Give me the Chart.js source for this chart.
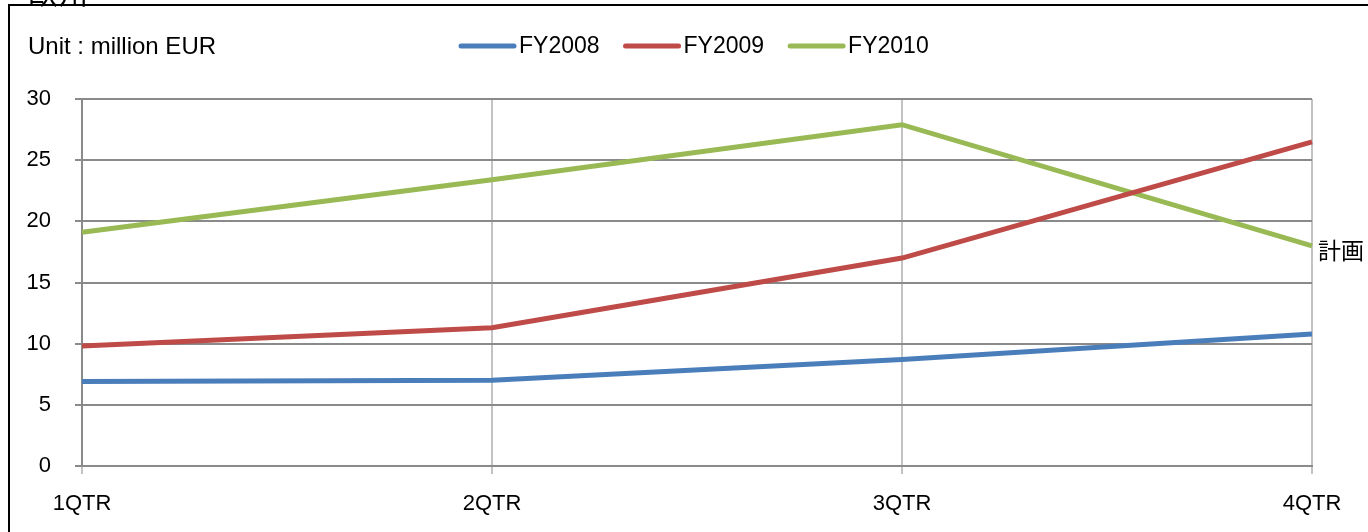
<!DOCTYPE html>
<html>
<head>
<meta charset="utf-8">
<script src="https://cdn.jsdelivr.net/npm/chart.js@4/dist/chart.umd.min.js"></script>
<style>
  html, body { margin: 0; padding: 0; background: #fff; }
  #wrap { width: 1368px; height: 532px; }
</style>
</head>
<body>
<div id="wrap"><canvas id="myChart"></canvas></div>
<script>
const quarters = ["1QTR", "2QTR", "3QTR", "4QTR"];
const fy2008 = [6.9, 7.0, 8.7, 10.8];
const fy2009 = [9.8, 11.3, 17.0, 26.5];
const fy2010 = [19.1, 23.4, 27.9, 18.0];
const seriesNames = ["FY2008", "FY2009", "FY2010"];
const lineColors = ["#4a7ebb", "#be4b48", "#98b954"];
const unitText = "Unit : million EUR";
const planText = "計画";
const cutTitle = "欧州";

const FONT = "'Liberation Sans', Arial, sans-serif";

// frame, unit label, legend and the plan note
const decor = {
  id: "decor",
  afterDraw(chart) {
    const ctx = chart.ctx;
    ctx.save();
    // outer frame (only left and top edges are visible)
    ctx.strokeStyle = "#000";
    ctx.lineWidth = 2;
    ctx.beginPath();
    ctx.moveTo(9, 532);
    ctx.lineTo(9, 5);
    ctx.lineTo(1368, 5);
    ctx.stroke();

    // title cut off at the top
    ctx.fillStyle = "#000";
    ctx.font = "30px 'Noto Sans CJK JP'";
    ctx.textBaseline = "alphabetic";
    ctx.textAlign = "left";
    ctx.fillText(cutTitle, 28, 4);

    ctx.font = "24px " + FONT;
    ctx.textBaseline = "middle";
    ctx.fillText(unitText, 28, 47);

    // legend
    ctx.font = "23px " + FONT;
    let x = 461;
    chart.data.datasets.forEach(ds => {
      ctx.strokeStyle = ds.borderColor;
      ctx.lineWidth = 5;
      ctx.lineCap = "round";
      ctx.beginPath();
      ctx.moveTo(x, 46);
      ctx.lineTo(x + 53, 46);
      ctx.stroke();
      ctx.fillStyle = "#000";
      ctx.fillText(ds.label, x + 58, 47);
      x += 58 + ctx.measureText(ds.label).width + 26;
    });

    // plan note next to last FY2010 point
    const meta = chart.getDatasetMeta(2);
    const pt = meta.data[meta.data.length - 1];
    ctx.font = "23px 'Noto Sans CJK JP'";
    ctx.fillText(planText, pt.x + 6, pt.y + 4);
    ctx.restore();
  }
};

new Chart("myChart", {
  type: "line",
  data: {
    labels: quarters,
    datasets: [fy2008, fy2009, fy2010].map((d, i) => ({
      label: seriesNames[i],
      data: d,
      borderColor: lineColors[i],
      backgroundColor: lineColors[i],
      borderWidth: 5,
      pointRadius: 0,
      tension: 0,
      fill: false
    }))
  },
  options: {
    responsive: true,
    maintainAspectRatio: false,
    animation: false,
    layout: { padding: { top: 99, right: 56, left: 0, bottom: 0 } },
    plugins: {
      legend: { display: false },
      title: { display: false },
      tooltip: { enabled: false }
    },
    scales: {
      x: {
        offset: false,
        grid: { color: "#c3c3c3", lineWidth: 2, tickLength: 8 },
        border: { color: "#8a8a8a", width: 2 },
        ticks: { color: "#000", font: { family: FONT, size: 22 }, padding: 17, maxRotation: 0 },
        afterFit(scale) { scale.height = 66; }
      },
      y: {
        min: 0,
        max: 30,
        ticks: { stepSize: 5, color: "#000", font: { family: FONT, size: 22 }, padding: 24 },
        grid: { color: "#8a8a8a", lineWidth: 2, tickLength: 7 },
        border: { color: "#8a8a8a", width: 2 },
        afterFit(scale) { scale.width = 82; }
      }
    }
  },
  plugins: [decor]
});
</script>
</body>
</html>
